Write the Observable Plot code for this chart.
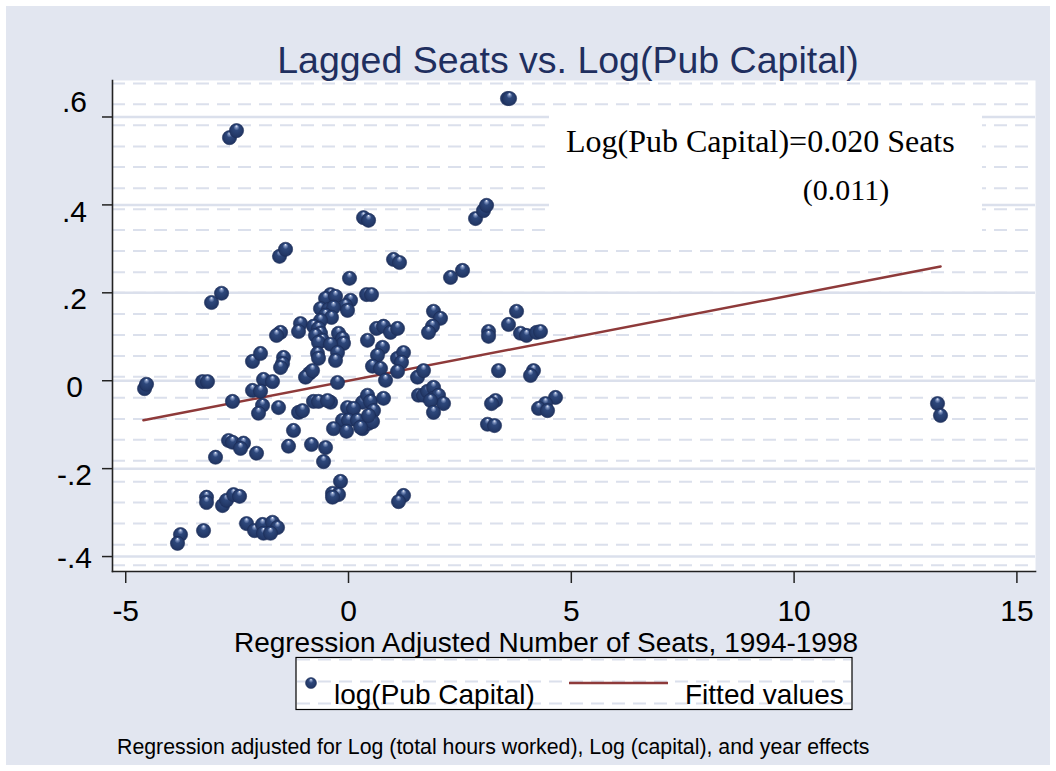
<!DOCTYPE html>
<html><head><meta charset="utf-8">
<script src="https://cdn.jsdelivr.net/npm/d3@7"></script>
<script src="https://cdn.jsdelivr.net/npm/@observablehq/plot@0.6"></script>
<style>
html,body{margin:0;padding:0;background:#fff;}
#wrap{position:relative;width:1056px;height:771px;background:#fff;overflow:hidden;}
#bg{position:absolute;left:6px;top:6px;width:1044px;height:759px;background:#e2e6f0;}
#chart{position:absolute;left:0;top:0;}
#overlay{position:absolute;left:0;top:0;}
</style></head><body>
<svg width="0" height="0" style="position:absolute"><defs>
<radialGradient id="ball" cx="0.5" cy="0.5" r="0.5" fx="0.5" fy="0.16">
<stop offset="0" stop-color="#eef2fa"/>
<stop offset="0.18" stop-color="#7d92bf"/>
<stop offset="0.4" stop-color="#2d477b"/>
<stop offset="1" stop-color="#203461"/>
</radialGradient></defs></svg>
<div id="wrap"><div id="bg"></div><div id="chart"></div><svg id="overlay" width="1056" height="771"></svg></div>
<script>
// ---- data ----
const seats = [-2.738,-2.581,3.501,3.546,-1.616,-1.481,0.269,0.382,2.783,2.962,3.030,0.943,1.077,2.222,2.491,-0.045,-3.142,-2.917,
0.337,0.449,-0.471,-0.583,-0.359,-0.022,-0.135,-0.696,-0.516,-0.404,-0.090,-0.583,-0.449,-1.145,-1.189,-1.593,-1.683,-0.696,-0.853,-0.741,-0.696,-0.808,-0.651,-0.741,-0.292,-0.202,-0.180,-0.471,-0.314,-0.359,-0.763,-0.741,
1.840,1.997,1.818,1.728,3.703,3.523,3.075,3.075,3.793,3.927,4.152,4.241,0.561,0.718,0.875,1.032,0.359,0.696,0.583,0.471,0.651,0.763,1.032,1.167,1.122,1.032,1.481,1.616,3.299,4.084,4.017,
-1.526,-1.548,-1.593,-0.943,-1.032,-0.875,-2.222,-2.042,-1.975,-1.773,-2.222,-2.042,-1.997,-2.087,-1.638,-2.671,-4.645,-4.601,-3.344,-3.232,-0.314,-1.189,-1.302,-0.853,-0.741,-0.471,-0.539,-0.090,0.247,0.359,0.426,0.718,0.494,0.045,-0.202,-0.067,-0.404,-0.112,0.247,0.382,0.471,0.135,0.202,0.382,-1.100,1.504,
1.616,1.706,1.840,1.840,1.952,2.065,1.773,1.840,3.232,3.142,3.052,3.209,4.578,4.354,4.197,4.399,13.151,13.218,
-2.760,-2.671,-2.424,-2.491,-2.132,-3.052,-1.414,-0.898,-0.583,-0.628,-0.247,-0.426,-0.292,-0.426,1.167,1.055,-3.254,-3.254,-2.895,-2.805,-2.648,-2.513,-2.356,-2.177,-1.997,-1.975,-1.773,-1.661,-1.818,-3.321,-3.838,-3.905];
const logPubCap = [0.553,0.569,0.642,0.642,0.283,0.299,0.371,0.365,0.369,0.387,0.399,0.276,0.269,0.235,0.251,0.233,0.178,0.199,
0.196,0.196,0.196,0.187,0.192,0.183,0.171,0.164,0.162,0.167,0.160,0.149,0.144,0.130,0.112,0.110,0.103,0.137,0.124,0.119,0.108,0.103,0.092,0.087,0.108,0.096,0.085,0.083,0.064,0.046,0.062,0.051,
0.158,0.142,0.124,0.110,0.158,0.128,0.112,0.101,0.108,0.103,0.110,0.112,0.119,0.124,0.110,0.119,0.092,0.076,0.058,0.033,0.028,0.001,0.051,0.064,0.042,0.021,0.008,0.023,0.023,0.023,0.012,
0.053,0.039,0.030,0.017,0.008,0.023,0.044,0.062,0.003,-0.002,-0.022,-0.024,-0.056,-0.074,-0.061,-0.047,-0.018,-0.008,-0.002,-0.002,-0.004,-0.072,-0.113,-0.047,-0.047,-0.049,-0.045,-0.061,-0.049,-0.033,-0.047,-0.040,-0.068,-0.063,-0.090,-0.090,-0.109,-0.115,-0.109,-0.097,-0.093,-0.090,-0.106,-0.079,-0.068,-0.033,
-0.033,-0.024,-0.015,-0.040,-0.033,-0.052,-0.045,-0.072,-0.045,-0.052,-0.099,-0.102,-0.038,-0.052,-0.063,-0.068,-0.052,-0.079,
-0.136,-0.140,-0.142,-0.154,-0.165,-0.174,-0.149,-0.145,-0.152,-0.184,-0.229,-0.256,-0.259,-0.265,-0.261,-0.275,-0.265,-0.277,-0.284,-0.272,-0.259,-0.263,-0.325,-0.341,-0.327,-0.347,-0.322,-0.334,-0.347,-0.341,-0.350,-0.370];
const fitSeats = [-4.67, 13.22];
const fitValues = [-0.090, 0.260];
const xTicks = [-5, 0, 5, 10, 15];
const xTickLabels = ["-5", "0", "5", "10", "15"];
const yTicks = [-0.4, -0.2, 0, 0.2, 0.4, 0.6];
const yTickLabels = ["-.4", "-.2", "0", ".2", ".4", ".6"];
const minorGrid = [0.676,0.629,0.581,0.533,0.486,0.438,0.390,0.343,0.295,0.247,0.200,0.152,0.104,0.056,0.009,-0.039,-0.087,-0.134,-0.182,-0.230,-0.277,-0.325,-0.373,-0.420];
const xDomain = [-5.364, 15.35];
const yDomain = [-0.434, 0.683];
const titleText = "Lagged Seats vs. Log(Pub Capital)";
const xTitle = "Regression Adjusted Number of Seats, 1994-1998";
const legendLabels = ["log(Pub Capital)", "Fitted values"];
const annotationLines = ["Log(Pub Capital)=0.020 Seats", "(0.011)"];
const noteText = "Regression adjusted for Log (total hours worked), Log (capital), and year effects";

const points = seats.map((s, i) => ({seats: s, lpc: logPubCap[i]}));
const fitted = fitSeats.map((s, i) => ({seats: s, fit: fitValues[i]}));

const navyDark = "#1b2c58";
const fitColor = "#8e3a3a";
const gridColor = "#dbe0ec";
const yFmt = d => yTickLabels[yTicks.indexOf(d)];
// labels only (no tick marks) so each label can sit where the reference puts it
const yLabelOpts = {tickFormat: yFmt, tickSize: 0, tickPadding: 38, textAnchor: "middle", fontSize: 30, label: null};

const chart = Plot.plot({
  width: 1056, height: 771,
  marginLeft: 112, marginRight: 21, marginTop: 80, marginBottom: 200,
  style: {background: "transparent", fontFamily: "'Liberation Sans', Arial, sans-serif", fontSize: "30px", color: "#000"},
  x: {domain: xDomain},
  y: {domain: yDomain},
  marks: [
    Plot.frame({fill: "white", stroke: "none"}),
    Plot.ruleY(minorGrid, {stroke: gridColor, strokeWidth: 2, strokeDasharray: "13,8"}),
    Plot.ruleY(yTicks, {stroke: gridColor, strokeWidth: 2.5}),
    Plot.frame({anchor: "left", stroke: "#222", strokeWidth: 1.6}),
    Plot.frame({anchor: "bottom", stroke: "#222", strokeWidth: 1.6}),
    Plot.axisY({ticks: yTicks, tickFormat: () => "", tickSize: 10, stroke: "#222", strokeWidth: 1.5, label: null}),
    Plot.axisY({...yLabelOpts, ticks: yTicks.filter(t => t > -0.3 && t < 0.5), dy: 7}),
    Plot.axisY({...yLabelOpts, ticks: yTicks.filter(t => t > 0.5), dy: -15}),
    Plot.axisY({...yLabelOpts, ticks: yTicks.filter(t => t < -0.3), dy: 2}),
    Plot.axisX({ticks: xTicks, tickFormat: d => xTickLabels[xTicks.indexOf(d)], tickSize: 12, tickPadding: 16, fontSize: 30, dx: -3, stroke: "#222", strokeWidth: 1.5, label: null}),
    Plot.line(fitted, {x: "seats", y: "fit", stroke: fitColor, strokeWidth: 2.5}),
    Plot.dot(points, {x: "seats", y: "lpc", r: 7.1, fill: "url(#ball)", stroke: navyDark, strokeWidth: 0.6})
  ]
});
document.getElementById("chart").appendChild(chart);

// ---- overlay texts ----
const ov = d3.select("#overlay");
ov.append("text").attr("x", 568).attr("y", 73).attr("text-anchor", "middle")
  .attr("font-family", "'Liberation Sans', Arial, sans-serif").attr("font-size", 37.5).attr("fill", "#1f2f5f").text(titleText);

ov.append("rect").attr("x", 549).attr("y", 113).attr("width", 433).attr("height", 130).attr("fill", "white");
ov.append("text").attr("x", 566).attr("y", 152).attr("font-family", "'Liberation Serif', 'Times New Roman', serif")
  .attr("font-size", 32).attr("fill", "#000").text(annotationLines[0]);
ov.append("text").attr("x", 846).attr("y", 200).attr("text-anchor", "middle").attr("font-family", "'Liberation Serif', 'Times New Roman', serif")
  .attr("font-size", 30).attr("fill", "#000").text(annotationLines[1]);

ov.append("text").attr("x", 546).attr("y", 652).attr("text-anchor", "middle")
  .attr("font-family", "'Liberation Sans', Arial, sans-serif").attr("font-size", 28).attr("fill", "#000").text(xTitle);

// legend
const lg = ov.append("g");
lg.append("rect").attr("x", 296).attr("y", 657.5).attr("width", 556).attr("height", 52).attr("fill", "white").attr("stroke", "#000").attr("stroke-width", 1.2);
[659.5, 681.5, 703.5].forEach(y => lg.append("line").attr("x1", 297).attr("x2", 851).attr("y1", y).attr("y2", y)
  .attr("stroke", gridColor).attr("stroke-width", 2).attr("stroke-dasharray", "13,8"));
lg.append("circle").attr("cx", 311).attr("cy", 683).attr("r", 5.5).attr("fill", "url(#ball)").attr("stroke", navyDark).attr("stroke-width", 0.5);
lg.append("line").attr("x1", 569).attr("x2", 668).attr("y1", 683).attr("y2", 683).attr("stroke", fitColor).attr("stroke-width", 2.5);
lg.append("text").attr("x", 334).attr("y", 704).attr("font-family", "'Liberation Sans', Arial, sans-serif").attr("font-size", 28).attr("fill", "#000").text(legendLabels[0]);
lg.append("text").attr("x", 685).attr("y", 704).attr("font-family", "'Liberation Sans', Arial, sans-serif").attr("font-size", 28).attr("fill", "#000").text(legendLabels[1]);

ov.append("text").attr("x", 117).attr("y", 754).attr("font-family", "'Liberation Sans', Arial, sans-serif").attr("font-size", 21.3).attr("fill", "#000").text(noteText);
</script>
</body></html>
